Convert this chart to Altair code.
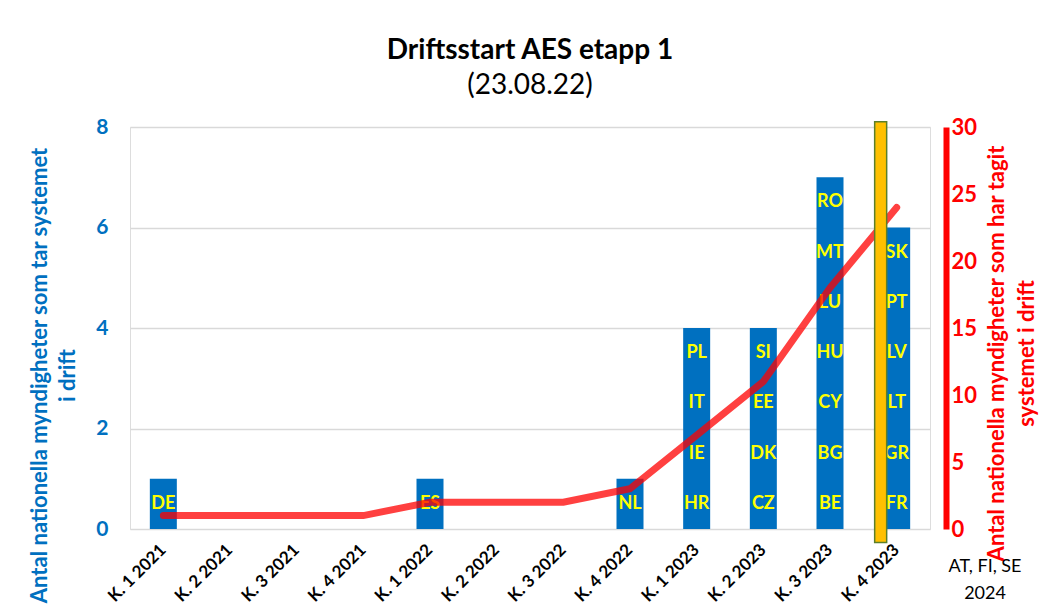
import altair as alt
import pandas as pd

quarters = ["K. 1 2021", "K. 2 2021", "K. 3 2021", "K. 4 2021",
            "K. 1 2022", "K. 2 2022", "K. 3 2022", "K. 4 2022",
            "K. 1 2023", "K. 2 2023", "K. 3 2023", "K. 4 2023"]
new_per_quarter = [1, 0, 0, 0, 1, 0, 0, 1, 4, 4, 7, 6]
cumulative = [1, 1, 1, 1, 2, 2, 2, 3, 7, 11, 18, 24]
countries = {
    "K. 1 2021": ["DE"],
    "K. 1 2022": ["ES"],
    "K. 4 2022": ["NL"],
    "K. 1 2023": ["HR", "IE", "IT", "PL"],
    "K. 2 2023": ["CZ", "DK", "EE", "SI"],
    "K. 3 2023": ["BE", "BG", "CY", "HU", "LU", "MT", "RO"],
    "K. 4 2023": ["FR", "GR", "LT", "LV", "PT", "SK"],
}
marker_quarter = "K. 4 2023"
marker_range = [-1.0, 30.4]  # in right-axis units
note_text = ["AT, FI, SE", "2024"]

FONT = "Lato"
BLUE = "#0070C0"
RED = "#FF0000"

bars_df = pd.DataFrame({"quarter": quarters, "count": new_per_quarter})
line_df = pd.DataFrame({"quarter": quarters, "cum": cumulative})
lab_rows = []
for q, codes in countries.items():
    for i, c in enumerate(codes):
        lab_rows.append({"quarter": q, "code": c, "pos": i + 0.5})
labels_df = pd.DataFrame(lab_rows)
marker_df = pd.DataFrame({"quarter": [marker_quarter], "lo": [marker_range[0]], "hi": [marker_range[1]]})

x_enc = alt.X("quarter:N", sort=quarters,
              scale=alt.Scale(domain=quarters, paddingInner=0, paddingOuter=0),
              axis=alt.Axis(title=None, labelAngle=315, labelAlign="right", labelBaseline="middle",
                            labelFont=FONT, labelFontSize=17, labelFontWeight="bold", labelColor="black",
                            domain=False, ticks=False, tickSize=0, labelPadding=18))

left_scale = alt.Scale(domain=[0, 8], nice=False)
left_axis = alt.Axis(title=["Antal nationella myndigheter som tar systemet", "i drift"],
                     values=[0, 2, 4, 6, 8], grid=True, gridColor="#D9D9D9", gridWidth=1.5,
                     domain=False, ticks=False, tickSize=0,
                     labelColor=BLUE, labelFont=FONT, labelFontSize=21, labelFontWeight="bold",
                     labelPadding=22,
                     titleColor=BLUE, titleFont=FONT, titleFontSize=22, titleFontWeight="bold",
                     titleAngle=270, titleAlign="center", titleBaseline="top",
                     titleX=-101, titleY=248, titleLineHeight=28)

right_scale = alt.Scale(domain=[0, 30], nice=False)
right_axis = alt.Axis(orient="right", title=["Antal nationella myndigheter som har tagit", "systemet i drift"],
                      values=[0, 5, 10, 15, 20, 25, 30], grid=False,
                      domain=True, domainColor=RED, domainWidth=6, offset=16,
                      ticks=False, tickSize=0,
                      labelColor=RED, labelFont=FONT, labelFontSize=22, labelFontWeight="bold",
                      labelPadding=5,
                      titleColor=RED, titleFont=FONT, titleFontSize=22, titleFontWeight="bold",
                      titleAngle=270, titleAlign="center", titleBaseline="top",
                      titleX=40, titleY=226, titleLineHeight=30)

bars = alt.Chart(bars_df).mark_bar(size=27, color=BLUE).encode(
    x=x_enc,
    y=alt.Y("count:Q", scale=left_scale, axis=left_axis),
)
texts = alt.Chart(labels_df).mark_text(color="#FFFF00", font=FONT, fontSize=18, fontWeight="bold",
                                       baseline="middle").encode(
    x=x_enc,
    y=alt.Y("pos:Q", scale=left_scale, axis=left_axis),
    text="code:N",
)
note = alt.Chart(pd.DataFrame({"t": [0]})).mark_text(
    font=FONT, fontSize=18, color="black", align="center", baseline="top", lineHeight=27
).encode(x=alt.value(855), y=alt.value(431), text=alt.value(note_text))

left_group = alt.layer(bars, texts, note)

line = alt.Chart(line_df).mark_line(color=RED, opacity=0.75, strokeWidth=7, strokeCap="round").encode(
    x=x_enc,
    y=alt.Y("cum:Q", scale=right_scale, axis=right_axis),
)
marker = alt.Chart(marker_df).mark_bar(size=12, xOffset=-16, color="#FFC000",
                                       stroke="#5B7F2A", strokeWidth=1.5).encode(
    x=x_enc,
    y=alt.Y("lo:Q", scale=right_scale, axis=right_axis),
    y2="hi:Q",
)
right_group = alt.layer(line, marker)

chart = alt.layer(left_group, right_group).resolve_scale(y="independent").properties(
    width=800, height=402,
    autosize=alt.AutoSizeParams(type="none"),
    padding={"left": 122, "top": 119, "right": 112, "bottom": 77},
    title=alt.TitleParams(text="Driftsstart AES etapp 1", subtitle="(23.08.22)",
                          font=FONT, fontSize=28, fontWeight="bold", color="black",
                          subtitleFont=FONT, subtitleFontSize=28, subtitleColor="black",
                          anchor="middle", offset=16, subtitlePadding=7),
).configure_view(stroke=None).configure(background="white", font=FONT)

chart.save("out.html", embed_options={"renderer": "svg", "actions": False})
